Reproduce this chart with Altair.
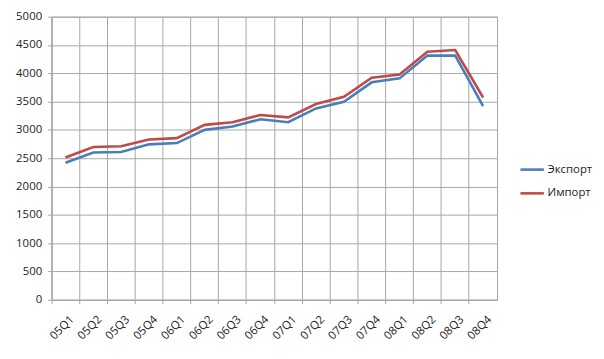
import altair as alt
import pandas as pd

quarters = ["05Q1", "05Q2", "05Q3", "05Q4", "06Q1", "06Q2", "06Q3", "06Q4",
            "07Q1", "07Q2", "07Q3", "07Q4", "08Q1", "08Q2", "08Q3", "08Q4"]
export_vals = [2420, 2600, 2610, 2745, 2768, 3001, 3059, 3187,
               3135, 3380, 3497, 3840, 3910, 4312, 4312, 3421]
import_vals = [2512, 2698, 2710, 2832, 2855, 3089, 3135, 3263,
               3222, 3456, 3584, 3922, 3980, 4382, 4411, 3572]
series = ["Экспорт", "Импорт"]
colors = ["#4A7EBB", "#BE4B48"]
y_ticks = list(range(0, 5001, 500))

df = pd.DataFrame({
    "q": quarters * 2,
    "v": export_vals + import_vals,
    "s": [series[0]] * len(quarters) + [series[1]] * len(quarters),
})

FONT = "Open Sans"
GRID = "#a6a6a6"
FS = 11.5

chart = alt.Chart(df).mark_line(strokeWidth=2.6).encode(
    x=alt.X("q:O", sort=quarters, bandPosition=0.5,
            scale=alt.Scale(type="band", paddingInner=0, paddingOuter=0),
            axis=alt.Axis(title=None, bandPosition=0, labelOffset=7, labelAngle=315,
                          labelAlign="right", labelBaseline="middle",
                          tickSize=4, labelPadding=14, grid=True,
                          gridColor=GRID, domainColor=GRID, tickColor=GRID,
                          labelFont=FONT, labelFontSize=FS, labelColor="#222")),
    y=alt.Y("v:Q", scale=alt.Scale(domain=[0, 5000], nice=False),
            axis=alt.Axis(title=None, values=y_ticks, format="d", tickSize=4, labelPadding=6,
                          gridColor=GRID, domainColor=GRID, tickColor=GRID,
                          labelFont=FONT, labelFontSize=FS, labelColor="#222")),
    color=alt.Color("s:N", sort=series,
                    scale=alt.Scale(domain=series, range=colors),
                    legend=alt.Legend(title=None, orient="none", legendX=472, legendY=141,
                                      symbolType="stroke", symbolSize=560,
                                      symbolStrokeWidth=2.6, rowPadding=5,
                                      labelFont=FONT, labelFontSize=FS,
                                      labelColor="#222", labelOffset=2)),
).properties(
    width=450, height=286,
    padding={"left": 44, "top": 7, "right": 100, "bottom": 50},
    autosize="none",
).configure_view(stroke=GRID)

chart.save("out.html", embed_options={"renderer": "svg", "actions": False})
